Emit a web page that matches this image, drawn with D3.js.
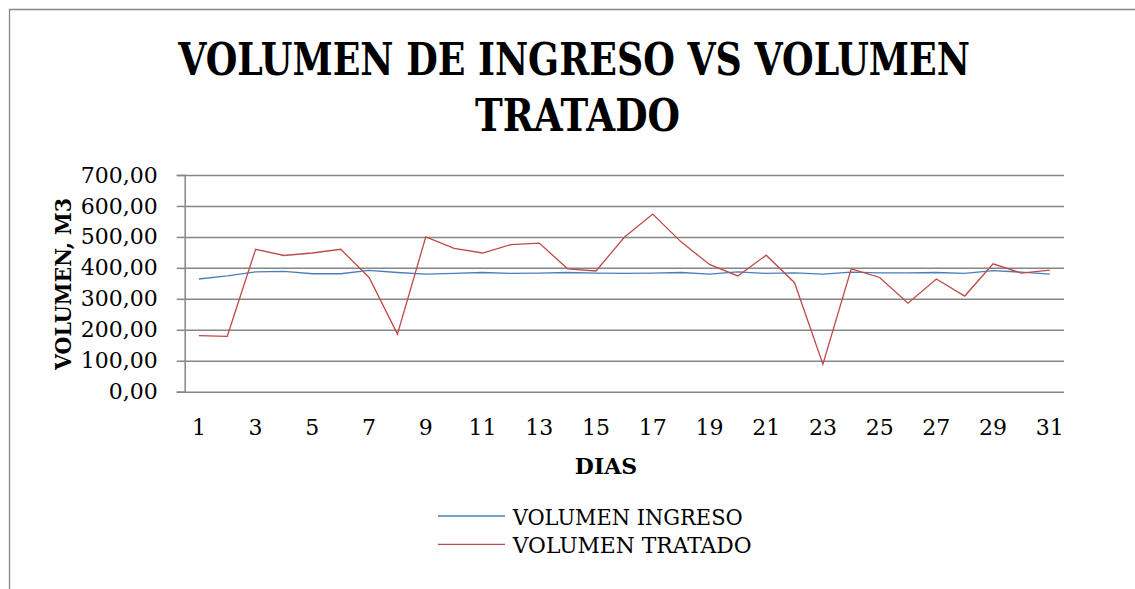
<!DOCTYPE html>
<html>
<head>
<meta charset="utf-8">
<script src="https://cdn.jsdelivr.net/npm/d3@7"></script>
<style>
  body { margin: 0; background: #fff; overflow: hidden; }
  svg { display: block; }
</style>
</head>
<body>
<div id="chart"></div>
<script>
// days of the month
const dias = d3.range(1, 32);

// VOLUMEN INGRESO (m3)
const volumenIngreso = [
  364, 374, 387, 389, 381, 381, 392, 385, 380, 382,
  385, 382, 383, 385, 383, 382, 383, 385, 380, 387,
  382, 384, 380, 386, 384, 384, 385, 382, 391, 386, 380
];

// VOLUMEN TRATADO (m3)
const volumenTratado = [
  181, 179, 460, 440, 448, 460, 369, 186, 500, 463,
  448, 475, 480, 397, 390, 499, 574, 484, 411, 374,
  441, 352, 89, 397, 369, 286, 364, 309, 413, 383, 393
];

const yTicks = [0, 100, 200, 300, 400, 500, 600, 700];
const xTickLabels = dias.filter(d => d % 2 === 1);
const titleLines = ["VOLUMEN DE INGRESO VS VOLUMEN", "TRATADO"];

const series = [
  { name: "VOLUMEN INGRESO", values: volumenIngreso, color: "#4a7ebb" },
  { name: "VOLUMEN TRATADO", values: volumenTratado, color: "#be4b48" }
];

const width = 1135, height = 589;
const plot = { left: 184.7, right: 1064, top: 175, bottom: 391.7 };
const gridColor = "#868686";
const fmt = v => d3.format(".2f")(v).replace(".", ",");

const svg = d3.select("#chart").append("svg")
  .attr("width", width)
  .attr("height", height)
  .attr("font-family", "'DejaVu Serif', serif")
  .style("overflow", "hidden");

// chart border (only top and left edges are in frame)
svg.append("path")
  .attr("d", `M9.5,${height}V9.5H${width}`)
  .attr("fill", "none")
  .attr("stroke", gridColor)
  .attr("stroke-width", 1.3);

// title, two lines, squeezed horizontally to the reference width
const titlePos = [
  { cx: 574, y: 75, w: 792 },
  { cx: 577.5, y: 130.7, w: 205 }
];
svg.append("g")
  .attr("font-weight", "bold")
  .attr("font-size", 44)
  .attr("text-anchor", "middle")
  .selectAll("text")
  .data(titleLines)
  .join("text")
  .text(d => d)
  .attr("transform", function (d, i) {
    const p = titlePos[i];
    const k = p.w / this.getComputedTextLength();
    return `translate(${p.cx},${p.y}) scale(${k},1)`;
  });

const x = d3.scaleBand()
  .domain(dias)
  .range([plot.left, plot.right]);
const px = d => x(d) + x.bandwidth() / 2;

const y = d3.scaleLinear()
  .domain([0, 700])
  .range([plot.bottom, plot.top]);

// gridlines + y axis
const yAxis = d3.axisLeft(y)
  .tickValues(yTicks)
  .tickSize(8)
  .tickPadding(19)
  .tickFormat(fmt);

const gy = svg.append("g")
  .attr("transform", `translate(${plot.left},0)`)
  .call(yAxis);
gy.attr("font-family", null).attr("font-size", 22);
gy.select(".domain").attr("stroke", gridColor).attr("stroke-width", 1.5);
gy.selectAll(".tick line").attr("stroke", gridColor).attr("stroke-width", 1.5);
gy.selectAll(".tick text").attr("fill", "#000");
gy.selectAll(".tick").append("line")
  .attr("x1", 0).attr("x2", plot.right - plot.left)
  .attr("stroke", gridColor).attr("stroke-width", 1.5);

// x axis labels (every other day)
const xAxis = d3.axisBottom(x)
  .tickValues(xTickLabels)
  .tickSize(0)
  .tickPadding(28);
const gx = svg.append("g")
  .attr("transform", `translate(0,${plot.bottom})`)
  .call(xAxis);
gx.attr("font-family", null).attr("font-size", 22);
gx.select(".domain").remove();
gx.selectAll(".tick text").attr("fill", "#000");

// lines
const line = d3.line()
  .x((v, i) => px(dias[i]))
  .y(v => y(v));

svg.append("g").selectAll("path")
  .data(series)
  .join("path")
  .attr("d", d => line(d.values))
  .attr("fill", "none")
  .attr("stroke", d => d.color)
  .attr("stroke-width", 1.3);

// axis titles
svg.append("text")
  .attr("x", 606).attr("y", 474)
  .attr("text-anchor", "middle")
  .attr("font-weight", "bold")
  .attr("font-size", 22)
  .text("DIAS");

svg.append("text")
  .attr("transform", "translate(71,284) rotate(-90)")
  .attr("text-anchor", "middle")
  .attr("font-weight", "bold")
  .attr("font-size", 22)
  .attr("textLength", 172).attr("lengthAdjust", "spacingAndGlyphs")
  .text("VOLUMEN, M3");

// legend
const legend = svg.append("g")
  .selectAll("g")
  .data(series)
  .join("g")
  .attr("transform", (d, i) => `translate(438,${516 + i * 28.3})`);
legend.append("line")
  .attr("x1", 0).attr("x2", 67)
  .attr("stroke", d => d.color)
  .attr("stroke-width", 1.3);
legend.append("text")
  .attr("x", 74.7).attr("y", 9)
  .attr("font-size", 23)
  .attr("textLength", (d, i) => i === 0 ? 230 : 239)
  .attr("lengthAdjust", "spacingAndGlyphs")
  .text(d => d.name);
</script>
</body>
</html>
